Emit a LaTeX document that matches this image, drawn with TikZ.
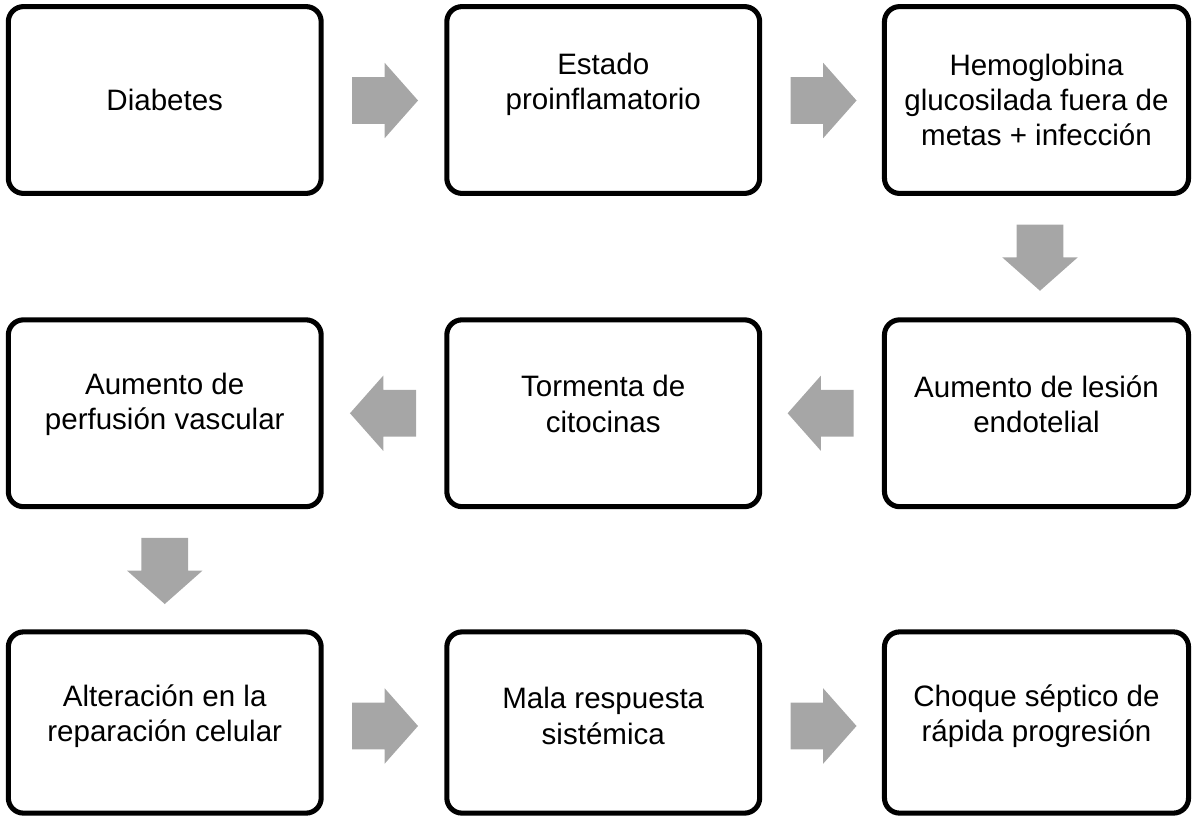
\documentclass[tikz,border=0pt]{standalone}
\usepackage{fontspec}
\setmainfont{Liberation Sans}
\usetikzlibrary{shapes.arrows,calc}
\definecolor{arrowgray}{RGB}{166,166,166}
\tikzset{
  stage/.style={draw,line width=3.6pt,rounded corners=0.38cm,minimum width=7.82cm,minimum height=4.67cm,inner sep=0pt},
  stagetext/.style={align=center,font=\fontsize{21}{25}\selectfont},
  blockarrow/.style={single arrow,fill=arrowgray,draw=none,anchor=tail,minimum height=1.65cm,inner xsep=0pt,inner ysep=0.575cm,single arrow head extend=0.36cm,single arrow tip angle=97},
  downarrow/.style={blockarrow,shape border rotate=270,inner xsep=0.575cm,inner ysep=0pt}
}
\begin{document}
\begin{tikzpicture}[x=0.025cm,y=-0.025cm]
  \useasboundingbox (0,0) rectangle (1193,817);
  % boxes
  \node[stage](b1) at (164.75,100) {};
  \node[stage](b2) at (603.25,100) {};
  \node[stage,minimum width=7.6cm](b3) at (1036.5,100) {};
  \node[stage](b4) at (164.75,413.25) {};
  \node[stage](b5) at (603.25,413.25) {};
  \node[stage,minimum width=7.6cm](b6) at (1036.5,413.25) {};
  \node[stage,minimum height=4.53cm](b7) at (164.75,722.5) {};
  \node[stage,minimum height=4.53cm](b8) at (603.25,722.5) {};
  \node[stage,minimum width=7.6cm,minimum height=4.53cm](b9) at (1036.5,722.5) {};
  % texts
  \node[stagetext](t1) at (164.75,100) {Diabetes};
  \node[stagetext](t2) at (603.25,84) {Estado\\proinflamatorio};
  \node[stagetext](t3) at (1036.5,100) {Hemoglobina\\glucosilada fuera de\\metas + infección};
  \node[stagetext](t4) at (164.75,404) {Aumento de\\perfusión vascular};
  \node[stagetext](t5) at (603.25,404) {Tormenta de\\citocinas};
  \node[stagetext](t6) at (1036.5,404) {Aumento de lesión\\endotelial};
  \node[stagetext](t7) at (164.75,716) {Alteración en la\\reparación celular};
  \node[stagetext](t8) at (603.25,716) {Mala respuesta\\sistémica};
  \node[stagetext](t9) at (1036.5,716) {Choque séptico de\\rápida progresión};
  % arrows
  \node[blockarrow](a12) at ($(b1.east)+(28,0.5)$) {};
  \node[blockarrow](a23) at ($(b2.east)+(28,0.5)$) {};
  \node[downarrow](a36) at ($(b3.south)+(3.5,28.5)$) {};
  \node[blockarrow,shape border rotate=180](a65) at ($(b6.west)+(-28,0)$) {};
  \node[blockarrow,shape border rotate=180](a54) at ($(b5.west)+(-28,0)$) {};
  \node[downarrow](a47) at ($(b4.south)+(0,28.5)$) {};
  \node[blockarrow](a78) at ($(b7.east)+(28,3.5)$) {};
  \node[blockarrow](a89) at ($(b8.east)+(28,3.5)$) {};
\end{tikzpicture}
\end{document}
